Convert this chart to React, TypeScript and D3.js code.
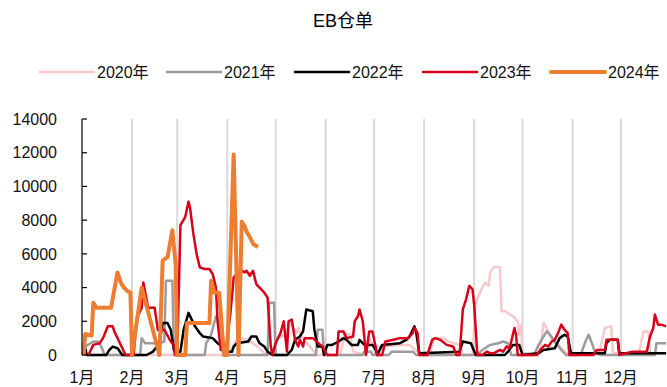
import React from 'react';
import * as d3 from 'd3';

// ---- data (day of year, warehouse receipts) ----
const MONTHS = ['1月', '2月', '3月', '4月', '5月', '6月', '7月', '8月', '9月', '10月', '11月', '12月'];
const MONTH_START = [0, 31, 59, 90, 120, 151, 181, 212, 243, 273, 304, 334];
const Y_TICKS = [0, 2000, 4000, 6000, 8000, 10000, 12000, 14000];
const SERIES_NAMES = ['2020年', '2021年', '2022年', '2023年', '2024年'];

const s2020: [number, number][] = [[0,0],[30,0],[60,0],[88,0],[92,200],[95,800],[98,1000],[102,900],[106,700],[110,400],[113,100],[118,0],[121,1000],[126,1200],[129,1900],[133,1300],[134,1600],[136,1100],[143,300],[145,0],[160,0],[163,1300],[166,1200],[168,200],[176,0],[178,1000],[181,500],[186,500],[197,600],[203,600],[210,0],[216,200],[218,1000],[224,1000],[227,800],[234,600],[236,0],[242,0],[244,3100],[248,4000],[250,4300],[252,4100],[253,4900],[255,5200],[259,5200],[260,2600],[262,2600],[267,2300],[270,2000],[271,1200],[272,1800],[273,100],[282,100],[284,300],[286,1900],[288,1600],[290,1200],[292,800],[295,600],[298,300],[300,100],[318,100],[321,300],[324,1600],[328,1700],[329,100],[345,100],[348,1400],[351,1400],[352,100],[362,100]];

const s2021: [number, number][] = [[0,0],[2,500],[7,800],[10,800],[12,500],[14,0],[36,0],[37,1000],[39,700],[48,700],[51,800],[52,4400],[56,4400],[57,0],[76,0],[77,700],[80,1200],[83,2300],[85,2000],[87,1000],[89,0],[115,0],[116,3100],[119,3100],[120,0],[145,0],[146,1500],[149,1500],[150,0],[174,0],[175,200],[179,200],[180,0],[190,0],[192,200],[205,200],[207,0],[245,0],[248,300],[253,600],[258,700],[261,800],[264,700],[266,0],[280,0],[283,600],[286,1100],[288,1400],[290,1200],[293,800],[297,300],[300,0],[309,0],[312,800],[314,1200],[316,700],[318,100],[322,0],[355,0],[356,700],[362,700]];

const s2022: [number, number][] = [[0,400],[2,400],[3,0],[15,0],[17,300],[19,500],[22,400],[25,0],[40,0],[44,200],[48,700],[50,1900],[53,1900],[55,1500],[57,300],[58,200],[61,200],[63,1500],[66,2500],[68,2100],[70,1700],[73,1300],[75,1100],[81,1000],[84,700],[87,500],[90,200],[93,200],[94,500],[96,700],[103,800],[105,1100],[108,1100],[110,700],[113,500],[115,200],[118,0],[127,0],[130,300],[132,900],[135,1100],[137,1400],[139,2700],[143,2600],[144,1500],[146,500],[149,500],[150,0],[152,600],[155,600],[159,800],[162,1000],[164,900],[167,600],[171,600],[172,900],[175,600],[180,600],[182,300],[183,0],[186,600],[197,700],[201,900],[203,1100],[206,1700],[207,1400],[209,100],[234,200],[236,800],[241,700],[244,0],[262,0],[264,200],[267,600],[271,600],[273,0],[283,100],[286,300],[293,400],[296,1000],[299,1200],[301,1100],[303,100],[324,100],[325,700],[327,900],[332,900],[333,100],[362,100]];

const s2023: [number, number][] = [[4,0],[7,600],[11,700],[13,1000],[16,1700],[19,1700],[20,1400],[27,0],[32,0],[34,2200],[37,2800],[38,4300],[41,2800],[45,2800],[47,1500],[51,1500],[55,800],[57,600],[58,0],[59,0],[61,7700],[64,8200],[66,9100],[67,8700],[69,7200],[71,6000],[73,5200],[76,5100],[79,5100],[81,4800],[83,4000],[84,2000],[86,300],[89,200],[92,2500],[94,4600],[95,4700],[97,4500],[99,5000],[101,4900],[102,5000],[104,4700],[106,5000],[108,4200],[110,4000],[113,3700],[115,3400],[117,500],[118,0],[120,700],[123,1300],[125,2000],[127,200],[128,2000],[130,2100],[132,900],[134,500],[135,900],[137,500],[138,1000],[143,1000],[149,500],[152,0],[158,0],[159,1400],[162,1400],[164,1000],[168,1100],[169,2000],[171,2300],[172,2700],[174,2000],[176,0],[178,1400],[180,1400],[183,0],[186,0],[188,800],[193,900],[197,1000],[202,1000],[205,1300],[206,1600],[208,1300],[209,0],[214,0],[217,900],[219,1000],[222,900],[226,600],[230,500],[232,0],[234,0],[236,2700],[238,3300],[240,4100],[242,3900],[243,3000],[245,0],[248,0],[251,200],[253,100],[255,100],[257,200],[259,300],[261,200],[263,500],[265,400],[266,800],[268,1600],[269,1200],[270,0],[282,0],[284,300],[285,400],[287,600],[289,500],[291,800],[293,900],[295,1300],[297,1800],[299,1500],[301,1300],[302,0],[317,0],[319,300],[324,300],[325,900],[332,900],[333,0],[341,200],[350,200],[352,1100],[354,1600],[355,2400],[357,1800],[359,1800],[362,1700]];

const s2024: [number, number][] = [[1,0],[2,1250],[6,1150],[7,3100],[9,2800],[18,2800],[22,4900],[24,4300],[26,4000],[28,3800],[30,3700],[31,0],[37,4000],[48,0],[50,5600],[53,5800],[56,7400],[58,5400],[59,0],[64,0],[65,1900],[79,1900],[80,4400],[82,3700],[85,3700],[88,0],[90,0],[94,11900],[97,0],[99,7900],[101,7600],[102,7300],[104,7000],[106,6600],[109,6400]];

const SERIES = [s2020, s2021, s2022, s2023, s2024];
const COLORS = ['#F6C9CB', '#9C9C9C', '#000000', '#D9001B', '#ED7D31'];
const WIDTHS = [2.5, 2.5, 2.5, 2.5, 4];

const W = 667;
const H = 387;
const FONT = '"Liberation Sans", "Noto Sans CJK SC", sans-serif';

export default function App() {
  const x = d3.scaleLinear().domain([0, 365]).range([82, 671]);
  const y = d3.scaleLinear().domain([0, 14000]).range([355, 119]);
  const line = d3
    .line<[number, number]>()
    .x((d) => x(d[0]))
    .y((d) => y(d[1]));

  const legendX = [40, 167, 295, 423, 551];

  return (
    <svg
      width={W}
      height={H}
      style={{ position: 'absolute', left: 0, top: 0, background: '#fff' }}
      fontFamily={FONT}
    >
      <defs>
        <clipPath id="plot">
          <rect x={82} y={100} width={W - 82} height={260} />
        </clipPath>
      </defs>
      <text x={343} y={27} textAnchor="middle" fontSize={18} fill="#000">
        EB仓单
      </text>

      {SERIES_NAMES.map((name, i) => (
        <g key={name}>
          <line
            x1={legendX[i]}
            x2={legendX[i] + 54}
            y1={72}
            y2={72}
            stroke={COLORS[i]}
            strokeWidth={WIDTHS[i] === 4 ? 4 : 2.5}
            strokeLinecap="round"
          />
          <text x={legendX[i] + 57} y={72} dy="0.36em" fontSize={16} fill="#111">
            {name}
          </text>
        </g>
      ))}

      {/* grid */}
      {MONTH_START.slice(1).map((d) => (
        <line key={d} x1={x(d)} x2={x(d)} y1={y(14000)} y2={y(0)} stroke="#D9D9D9" strokeWidth={2} />
      ))}

      {/* series */}
      <g clipPath="url(#plot)">
        {SERIES.map((s, i) => (
          <path
            key={i}
            d={line(s) || ''}
            fill="none"
            stroke={COLORS[i]}
            strokeWidth={WIDTHS[i]}
            strokeLinejoin="round"
          />
        ))}
      </g>

      {/* y axis */}
      <line x1={82} x2={82} y1={y(14000)} y2={y(0)} stroke="#000" strokeWidth={1.2} />
      {Y_TICKS.map((t) => (
        <g key={t}>
          <line x1={82} x2={87} y1={y(t)} y2={y(t)} stroke="#000" strokeWidth={1.2} />
          <text x={57} y={y(t)} dy="0.36em" textAnchor="end" fontSize={16} fill="#111">
            {t}
          </text>
        </g>
      ))}

      {/* x axis labels */}
      {MONTHS.map((m, i) => (
        <text key={m} x={x(MONTH_START[i])} y={383} textAnchor="middle" fontSize={16} fill="#111">
          {m}
        </text>
      ))}
    </svg>
  );
}
